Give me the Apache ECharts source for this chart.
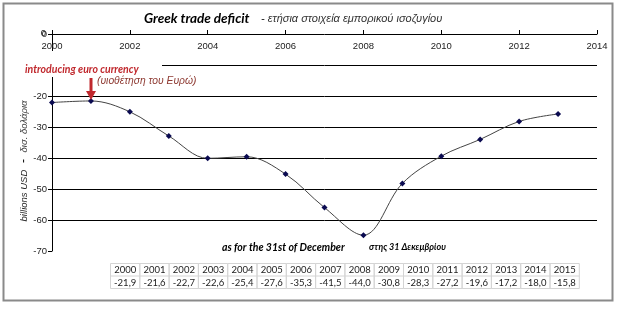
<!DOCTYPE html>
<html>
<head>
<meta charset="utf-8">
<script src="https://cdn.jsdelivr.net/npm/echarts@6/dist/echarts.min.js"></script>
<style>
html,body{margin:0;padding:0;background:#fff;}
#chart{width:619px;height:323px;}
</style>
</head>
<body>
<div id="chart"></div>
<script>
// ---- data ----
const years = [2000, 2001, 2002, 2003, 2004, 2005, 2006, 2007, 2008, 2009, 2010, 2011, 2012, 2013];
const deficit = [-22.1, -21.6, -25.1, -32.9, -40.1, -39.6, -45.2, -56.0, -64.9, -48.2, -39.4, -34.0, -28.2, -25.8];
const gridValues = [-10, -20, -30, -40, -50, -60];
const tableYears = [2000, 2001, 2002, 2003, 2004, 2005, 2006, 2007, 2008, 2009, 2010, 2011, 2012, 2013, 2014, 2015];
const tableValues = [-21.9, -21.6, -22.7, -22.6, -25.4, -27.6, -35.3, -41.5, -44.0, -30.8, -28.3, -27.2, -19.6, -17.2, -18.0, -15.8];

const chart = echarts.init(document.getElementById('chart'), null, {renderer: 'canvas'});

const graphics = [];
// outer frame
graphics.push({type: 'rect', shape: {x: 3.5, y: 3.5, width: 609, height: 297},
  style: {fill: null, stroke: '#8a8a8a', lineWidth: 2}, z: 1});
// white box under euro annotation (covers part of grid like the source text box)
graphics.push({type: 'rect', shape: {x: 12, y: 51, width: 150, height: 26},
  style: {fill: '#fff'}, z: 50});
// titles
graphics.push({type: 'text', left: 144, top: 12, z: 60,
  style: {text: 'Greek trade deficit', font: 'italic bold 13.5px Lato', fill: '#000'}});
graphics.push({type: 'text', left: 261, top: 13, z: 60,
  style: {text: '- ετήσια στοιχεία εμπορικού ισοζυγίου', font: 'italic 11px "Liberation Sans"', fill: '#333'}});
graphics.push({type: 'text', left: 25, top: 64, z: 60,
  style: {text: 'introducing euro currency', font: 'italic bold 10.5px Lato', fill: '#c0282d'}});
graphics.push({type: 'text', left: 97, top: 76, z: 60,
  style: {text: '(υιοθέτηση του Ευρώ)', font: 'italic 10.3px "Liberation Sans"', fill: '#8e3a32'}});
// arrow
graphics.push({type: 'rect', shape: {x: 89.5, y: 78, width: 3, height: 14}, style: {fill: '#c0282d'}, z: 60});
graphics.push({type: 'polygon', shape: {points: [[86, 91], [96, 91], [91, 100]]}, style: {fill: '#c0282d'}, z: 60});
// date notes
graphics.push({type: 'text', left: 222, top: 242, z: 60,
  style: {text: 'as for the 31st of December', font: 'italic bold 10.5px Lato', fill: '#000'}});
graphics.push({type: 'text', left: 369, top: 243, z: 60,
  style: {text: 'στης 31 Δεκεμβρίου', font: 'italic bold 9px Lato', fill: '#000'}});
// y axis title
graphics.push({type: 'text', x: 24, y: 161, rotation: Math.PI / 2, z: 60,
  style: {text: '{b|billions USD}  -  {g|δισ. δολάρια}', align: 'center', verticalAlign: 'middle',
    rich: {b: {font: 'italic 9.5px "Liberation Sans"', fill: '#222'}, g: {font: 'italic 9.5px "Liberation Sans"', fill: '#444'}}}});
// data table
const tX = 110, tY = 263, colW = 29.3, rowH = 12.5;
tableYears.forEach((yr, i) => {
  const x0 = tX + i * colW;
  graphics.push({type: 'rect', shape: {x: x0 + 0.5, y: tY + 0.5, width: colW, height: rowH * 2},
    style: {fill: null, stroke: '#d4d4d4', lineWidth: 1}, z: 40});
  graphics.push({type: 'line', shape: {x1: x0 + 0.5, y1: tY + rowH + 0.5, x2: x0 + colW + 0.5, y2: tY + rowH + 0.5},
    style: {stroke: '#d4d4d4', lineWidth: 1}, z: 40});
  graphics.push({type: 'text', x: x0 + colW - 3, y: tY + rowH / 2 + 1, z: 41,
    style: {text: String(yr), align: 'right', verticalAlign: 'middle', font: '9.5px Lato', fill: '#222'}});
  graphics.push({type: 'text', x: x0 + colW - 3, y: tY + rowH * 1.5 + 1, z: 41,
    style: {text: tableValues[i].toFixed(1).replace('.', ','), align: 'right', verticalAlign: 'middle', font: '9.5px Lato', fill: '#222'}});
});

const option = {
  animation: false,
  backgroundColor: '#fff',
  grid: {left: 52, right: 22, top: 34, bottom: 72, containLabel: false},
  xAxis: {
    type: 'value', position: 'top', min: 2000, max: 2014, interval: 2,
    axisLine: {show: true, onZero: false, lineStyle: {color: '#000', width: 1}},
    axisTick: {show: true, inside: false, length: 4, lineStyle: {color: '#000'}},
    axisLabel: {inside: true, margin: 7, color: '#222', fontSize: 9.5, fontFamily: 'Liberation Sans',
      showMinLabel: true, showMaxLabel: true, hideOverlap: false, formatter: v => String(v)},
    splitLine: {show: false}
  },
  yAxis: {
    type: 'value', min: -70, max: 0, interval: 10,
    axisLine: {show: true, onZero: false, lineStyle: {color: '#000', width: 1}},
    axisTick: {show: true, inside: false, length: 4, lineStyle: {color: '#000'}},
    axisLabel: {margin: 5, color: '#222', fontSize: 9.5, fontFamily: 'Liberation Sans',
      showMinLabel: true, showMaxLabel: true, hideOverlap: false},
    splitLine: {show: false}
  },
  series: [{
    type: 'line',
    data: years.map((y, i) => [y, deficit[i]]),
    smooth: 0.35,
    symbol: 'diamond', symbolSize: 6,
    itemStyle: {color: '#0a0a50'},
    lineStyle: {color: '#444', width: 1},
    z: 20,
    markLine: {
      silent: true, symbol: ['none', 'none'], label: {show: false},
      lineStyle: {color: '#000', width: 1, type: 'solid'},
      data: gridValues.map(v => ({yAxis: v})),
      z: 5
    }
  }],
  graphic: graphics
};
chart.setOption(option);

// the top "0" tick label (auto-hidden at the axis corner), placed through the axis scale
const zeroPt = chart.convertToPixel({gridIndex: 0}, [2000, 0]);
graphics.push({type: 'text', x: zeroPt[0] - 6, y: zeroPt[1] - 1, z: 60,
  style: {text: '0', align: 'right', verticalAlign: 'middle', font: '9.5px "Liberation Sans"', fill: '#222'}});
chart.setOption({graphic: graphics});
</script>
</body>
</html>
